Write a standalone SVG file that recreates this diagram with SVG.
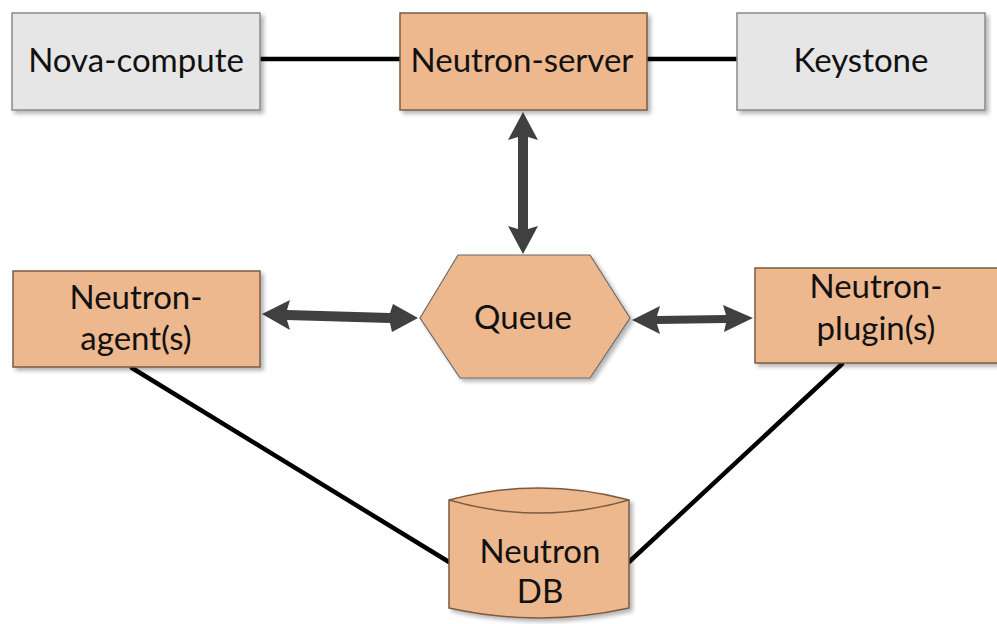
<svg xmlns="http://www.w3.org/2000/svg" width="997" height="624" viewBox="0 0 997 624">
<defs>
<filter id="sh" x="-10%" y="-10%" width="130%" height="130%">
<feGaussianBlur in="SourceAlpha" stdDeviation="2"/>
<feOffset dx="3" dy="3" result="b"/>
<feComponentTransfer><feFuncA type="linear" slope="0.3"/></feComponentTransfer>
<feMerge><feMergeNode/><feMergeNode in="SourceGraphic"/></feMerge>
</filter>
</defs>
<style>
.gray{fill:#e6e6e6;stroke:#8a8a8a;stroke-width:1.5}
.orange{fill:#eeb88e;stroke:#7c5c40;stroke-width:1.5}
.hex{fill:#eeb88e;stroke:#6a6a6a;stroke-width:1.2}
.t{font-family:Lato,"Open Sans","Liberation Sans",sans-serif;font-size:33px;fill:#111;text-anchor:middle}
.ln{stroke:#000;stroke-width:4.5;fill:none;stroke-linecap:round}
.ar{fill:#404040}
</style>
<rect width="997" height="624" fill="#fff"/>
<g id="connectors">
<line class="ln" x1="260" y1="59" x2="400" y2="59"/>
<line class="ln" x1="647" y1="59" x2="737" y2="59"/>
<line class="ln" x1="132" y1="368" x2="449" y2="562"/>
<line class="ln" x1="842" y1="364" x2="629" y2="562"/>
<path class="ar" d="M523,112 L538,140 L528,137 L528,229 L538,226 L523,254 L508,226 L518,229 L518,137 L508,140 Z"/>
<path class="ar" d="M262,314 L290,300 L287,310 L390,313 L393,304 L418,318 L392,332 L390,323 L287,320 L290,330 Z"/>
<path class="ar" d="M632,320 L660,306 L657,316 L726,315 L723,305 L753,318 L724,332 L726,323 L657,324 L660,334 Z"/>
</g>
<g id="nova-compute">
<rect class="gray" x="12" y="13" width="248" height="97" filter="url(#sh)"/>
<text class="t" x="136" y="72">Nova-compute</text>
</g>
<g id="neutron-server">
<rect class="orange" x="400" y="13" width="247" height="97" filter="url(#sh)"/>
<text class="t" x="522" y="72">Neutron-server</text>
</g>
<g id="keystone">
<rect class="gray" x="737" y="13" width="248" height="97" filter="url(#sh)"/>
<text class="t" x="861" y="72">Keystone</text>
</g>
<g id="neutron-agents">
<rect class="orange" x="13" y="271" width="247" height="96" filter="url(#sh)"/>
<text class="t" x="136" y="309">Neutron-</text>
<text class="t" x="136" y="350">agent(s)</text>
</g>
<g id="queue">
<polygon class="hex" points="420,318 458,255 590,255 630,318 590,378 460,378" filter="url(#sh)"/>
<text class="t" x="523" y="329">Queue</text>
</g>
<g id="neutron-plugins">
<rect class="orange" x="755" y="268" width="250" height="95" filter="url(#sh)"/>
<text class="t" x="876" y="298">Neutron-</text>
<text class="t" x="876" y="340">plugin(s)</text>
</g>
<g id="neutron-db">
<path class="orange" d="M449,500 Q539,476 629,500 L629,608 Q539,628 449,608 Z" filter="url(#sh)"/>
<path d="M449,500 Q539,526 629,500" fill="none" stroke="#7c5c40" stroke-width="1.5"/>
<text class="t" x="540" y="563">Neutron</text>
<text class="t" x="540" y="603">DB</text>
</g>
</svg>
